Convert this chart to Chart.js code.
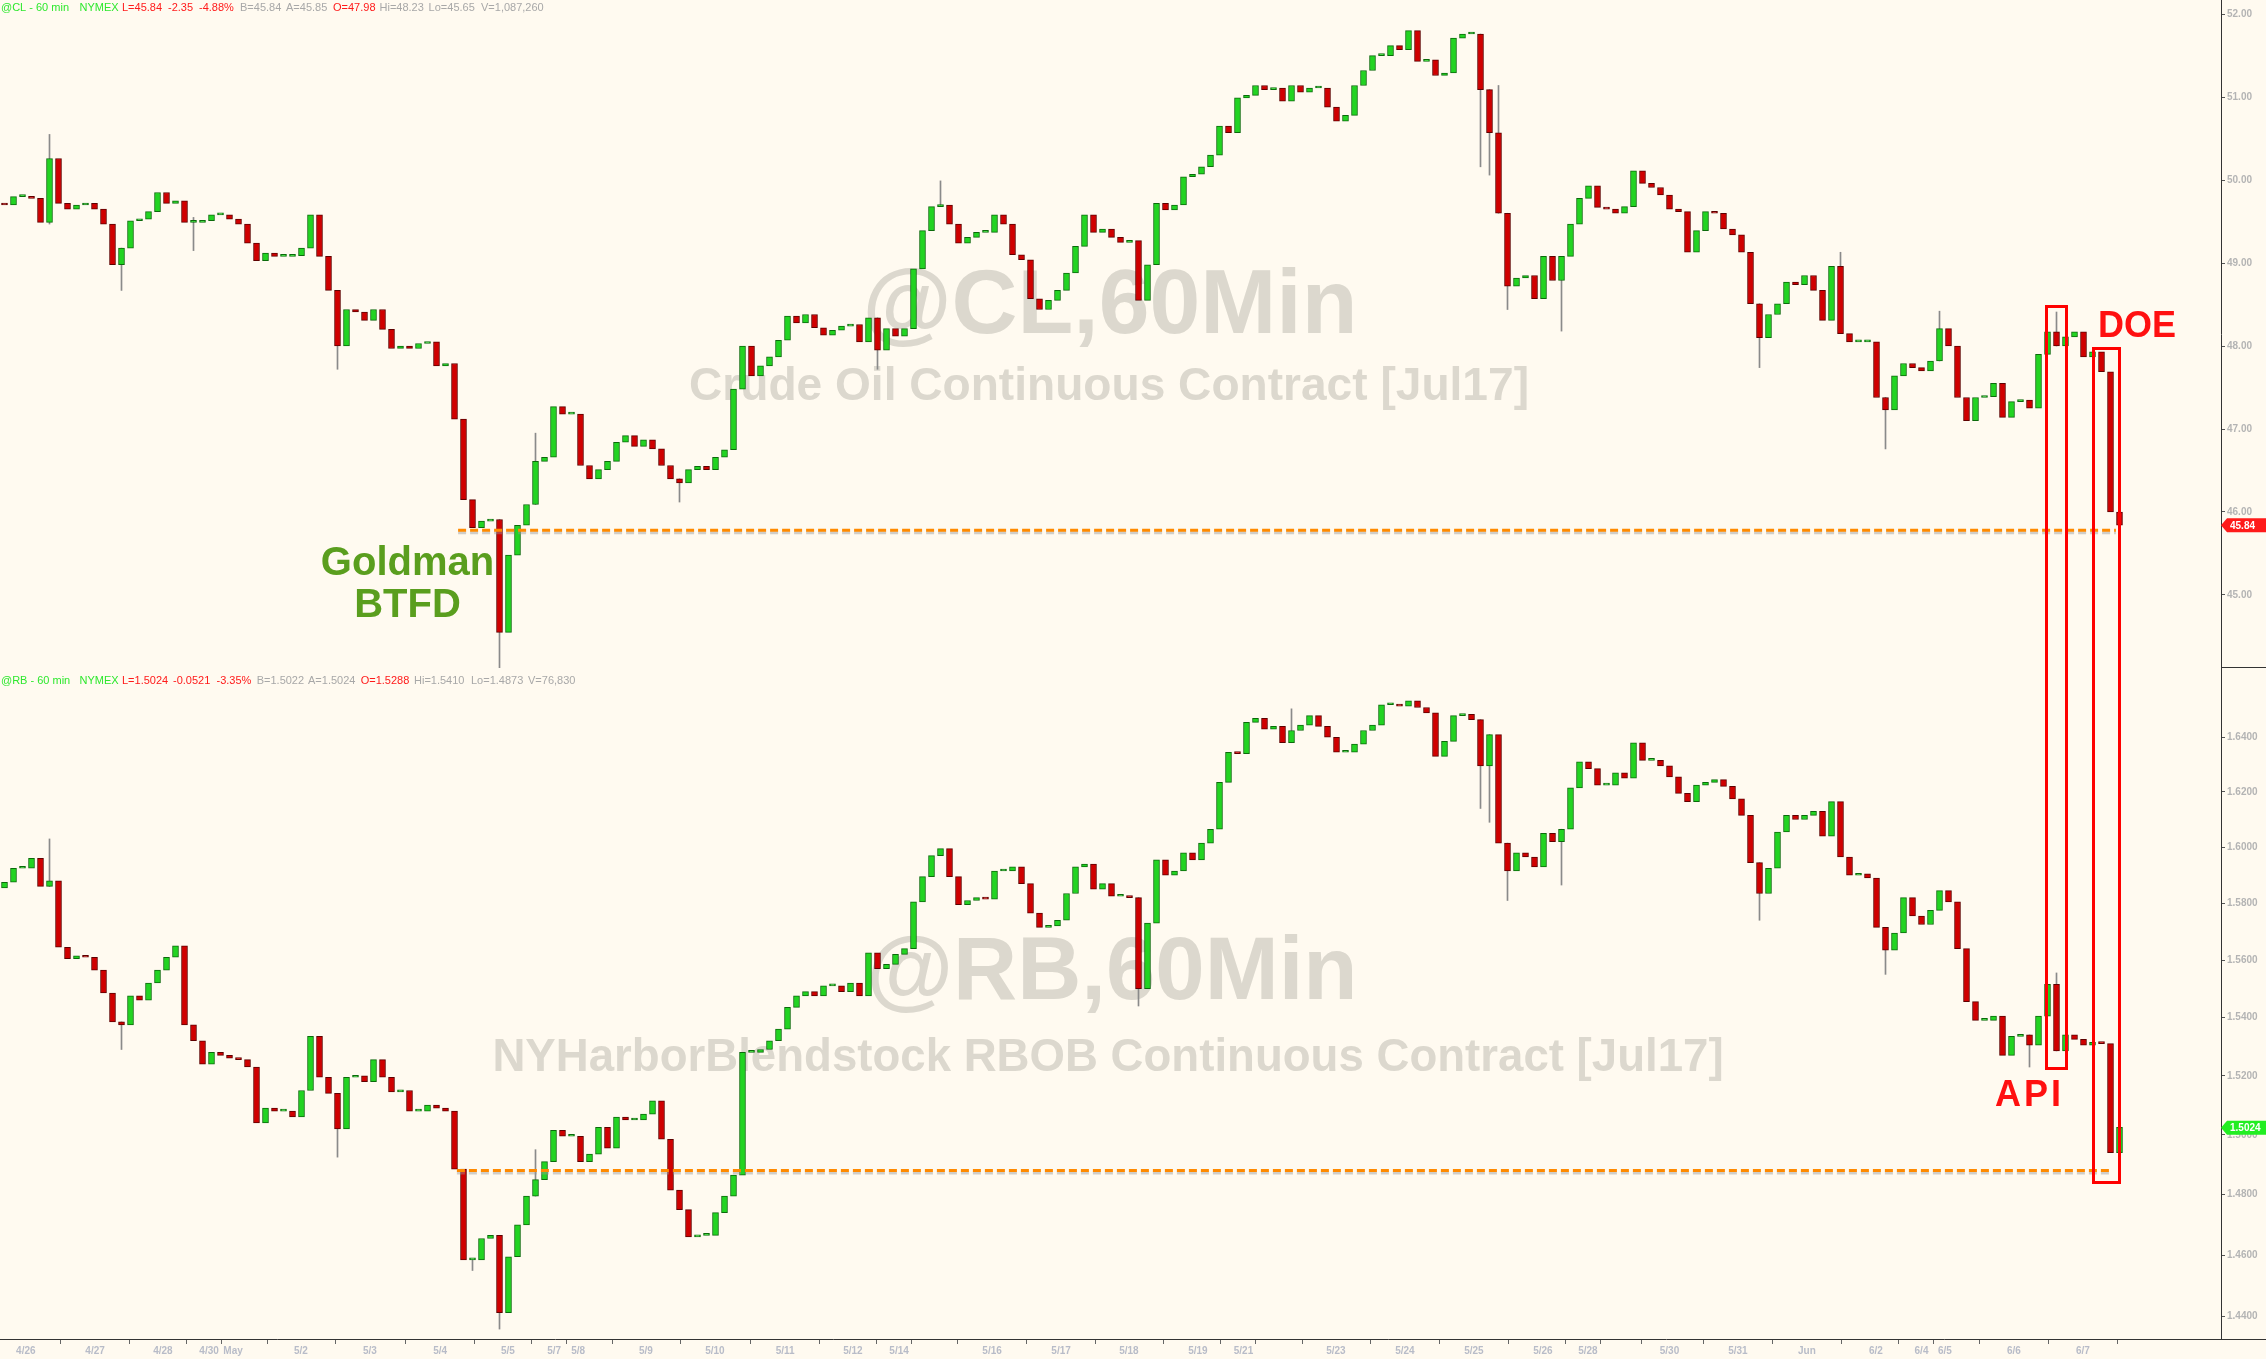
<!DOCTYPE html>
<html>
<head>
<meta charset="utf-8">
<script src="https://cdn.jsdelivr.net/npm/chart.js@4.4.1/dist/chart.umd.min.js"></script>
<style>
  body { margin: 0; background: #fffaf0; }
  #wrap { position: relative; width: 2266px; height: 1359px; overflow: hidden; background: #fffaf0; }
  canvas { position: absolute; left: 0; }
  #top-chart { top: 0; }
  #bottom-chart { top: 668px; }
  .box { position: absolute; border: 3px solid #ff0000; box-sizing: border-box; }
  .note { position: absolute; font-family: 'Liberation Sans', Arial, sans-serif; font-weight: bold; line-height: 1; white-space: nowrap; }
</style>
</head>
<body>
<div id="wrap">
  <canvas id="top-chart" width="2266" height="668"></canvas>
  <canvas id="bottom-chart" width="2266" height="691"></canvas>
  <div class="box" style="left:2045px;top:305px;width:23px;height:765px"></div>
  <div class="box" style="left:2092px;top:347px;width:29px;height:837px"></div>
  <div class="note" style="left:2098px;top:307px;font-size:36px;color:#ff1010">DOE</div>
  <div class="note" style="left:1995px;top:1076px;font-size:36px;color:#ff1010;letter-spacing:3px">API</div>
  <div class="note" style="left:300px;top:540px;width:215px;text-align:center;font-size:40px;line-height:42px;color:#5a9e1e">Goldman<br>BTFD</div>
</div>
<script>
// @CL 60 min, one close per 3 bars
const clFirstOpen = 49.72;
const clClose = [
  49.70, 49.80, 49.80, 49.78, 49.49, 50.26, 49.72, 49.65, 49.70, 49.72,
  49.65, 49.47, 48.98, 49.18, 49.51, 49.53, 49.62, 49.85, 49.72, 49.75,
  49.49, 49.49, 49.51, 49.58, 49.58, 49.53, 49.47, 49.24, 49.03, 49.12,
  49.08, 49.08, 49.09, 49.18, 49.58, 49.08, 48.67, 48.00, 48.44, 48.41,
  48.31, 48.44, 48.20, 47.97, 48.00, 47.97, 48.03, 48.05, 47.76, 47.79,
  47.12, 46.15, 45.81, 45.89, 45.91, 44.55, 45.48, 45.84, 46.09, 46.61,
  46.66, 47.27, 47.18, 47.18, 46.56, 46.40, 46.51, 46.61, 46.84, 46.92,
  46.79, 46.87, 46.76, 46.56, 46.40, 46.35, 46.51, 46.55, 46.51, 46.66,
  46.75, 47.48, 48.00, 47.64, 47.76, 47.87, 48.07, 48.36, 48.28, 48.38,
  48.22, 48.13, 48.19, 48.24, 48.26, 48.05, 48.34, 47.95, 48.21, 48.12,
  48.21, 48.93, 49.39, 49.68, 49.70, 49.47, 49.24, 49.31, 49.37, 49.37,
  49.58, 49.47, 49.10, 49.04, 48.57, 48.44, 48.55, 48.67, 48.88, 49.20,
  49.58, 49.37, 49.41, 49.31, 49.25, 49.27, 48.55, 48.98, 49.72, 49.64,
  49.70, 50.04, 50.07, 50.16, 50.30, 50.65, 50.57, 50.99, 51.02, 51.14,
  51.09, 51.11, 50.95, 51.14, 51.06, 51.11, 51.11, 50.88, 50.71, 50.78,
  51.14, 51.32, 51.50, 51.50, 51.62, 51.57, 51.80, 51.43, 51.45, 51.26,
  51.29, 51.71, 51.76, 51.76, 51.09, 50.57, 49.60, 48.72, 48.82, 48.85,
  48.57, 49.08, 48.79, 49.08, 49.47, 49.78, 49.93, 49.67, 49.65, 49.60,
  49.68, 50.11, 49.96, 49.91, 49.82, 49.65, 49.62, 49.13, 49.39, 49.62,
  49.60, 49.41, 49.34, 49.13, 48.51, 48.10, 48.38, 48.51, 48.77, 48.74,
  48.85, 48.67, 48.31, 48.96, 48.15, 48.05, 48.05, 48.05, 47.38, 47.23,
  47.64, 47.79, 47.74, 47.70, 47.82, 48.21, 48.00, 47.38, 47.10, 47.38,
  47.39, 47.55, 47.14, 47.33, 47.35, 47.25, 47.90, 48.17, 48.00, 48.11,
  48.17, 47.87, 47.93, 47.69, 46.00, 45.84
];
// [candle, low, high] for the longer shadows
const clWicks = [
  [5, 49.47, 50.55], [13, 48.67, 49.18], [21, 49.15, 49.55], [37, 47.72, 48.67],
  [55, 44.09, 45.91], [59, 46.09, 46.95], [75, 46.12, 46.40], [97, 47.72, 48.34],
  [104, 49.68, 49.99], [164, 50.16, 51.76], [165, 50.06, 51.09], [166, 49.60, 51.14],
  [167, 48.44, 49.60], [173, 48.18, 49.08], [195, 47.74, 48.51], [204, 48.15, 49.13],
  [209, 46.76, 47.38], [215, 47.82, 48.42], [228, 48.00, 48.41]
];

// @RB 60 min
const rbFirstOpen = 1.5855;
const rbClose = [
  1.5875, 1.5925, 1.5925, 1.5960, 1.5860, 1.5880, 1.5645, 1.5605, 1.5615, 1.5610,
  1.5565, 1.5485, 1.5385, 1.5375, 1.5475, 1.5460, 1.5520, 1.5565, 1.5610, 1.5650,
  1.5375, 1.5320, 1.5240, 1.5280, 1.5270, 1.5260, 1.5255, 1.5230, 1.5040, 1.5090,
  1.5080, 1.5080, 1.5060, 1.5150, 1.5335, 1.5195, 1.5140, 1.5020, 1.5195, 1.5200,
  1.5180, 1.5255, 1.5195, 1.5145, 1.5150, 1.5080, 1.5080, 1.5100, 1.5090, 1.5080,
  1.4885, 1.4585, 1.4585, 1.4655, 1.4665, 1.4413, 1.4595, 1.4700, 1.4795, 1.4850,
  1.4910, 1.5015, 1.4995, 1.4995, 1.4910, 1.4935, 1.5025, 1.4955, 1.5060, 1.5050,
  1.5050, 1.5070, 1.5115, 1.4985, 1.4815, 1.4750, 1.4660, 1.4665, 1.4665, 1.4740,
  1.4795, 1.4865, 1.5280, 1.5280, 1.5290, 1.5320, 1.5360, 1.5435, 1.5475, 1.5490,
  1.5475, 1.5510, 1.5510, 1.5490, 1.5520, 1.5475, 1.5625, 1.5570, 1.5585, 1.5620,
  1.5640, 1.5805, 1.5895, 1.5970, 1.5995, 1.5895, 1.5795, 1.5810, 1.5820, 1.5815,
  1.5915, 1.5915, 1.5930, 1.5870, 1.5765, 1.5715, 1.5720, 1.5740, 1.5835, 1.5930,
  1.5940, 1.5850, 1.5870, 1.5825, 1.5825, 1.5820, 1.5500, 1.5730, 1.5955, 1.5900,
  1.5915, 1.5980, 1.5955, 1.6015, 1.6065, 1.6235, 1.6345, 1.6340, 1.6455, 1.6470,
  1.6430, 1.6440, 1.6380, 1.6425, 1.6445, 1.6480, 1.6440, 1.6400, 1.6345, 1.6345,
  1.6375, 1.6425, 1.6445, 1.6520, 1.6520, 1.6515, 1.6535, 1.6510, 1.6490, 1.6330,
  1.6385, 1.6480, 1.6485, 1.6465, 1.6295, 1.6410, 1.6015, 1.5915, 1.5980, 1.5965,
  1.5930, 1.6050, 1.6020, 1.6065, 1.6215, 1.6310, 1.6285, 1.6225, 1.6225, 1.6270,
  1.6250, 1.6380, 1.6315, 1.6315, 1.6295, 1.6255, 1.6195, 1.6165, 1.6225, 1.6235,
  1.6245, 1.6220, 1.6175, 1.6115, 1.5945, 1.5835, 1.5925, 1.6055, 1.6115, 1.6100,
  1.6115, 1.6130, 1.6040, 1.6165, 1.5965, 1.5900, 1.5905, 1.5890, 1.5715, 1.5635,
  1.5695, 1.5820, 1.5755, 1.5725, 1.5775, 1.5845, 1.5805, 1.5640, 1.5455, 1.5390,
  1.5390, 1.5405, 1.5270, 1.5335, 1.5340, 1.5305, 1.5405, 1.5515, 1.5285, 1.5340,
  1.5325, 1.5305, 1.5315, 1.5310, 1.4940, 1.5025
];
const rbWicks = [
  [5, 1.5860, 1.6030], [13, 1.5290, 1.5385], [37, 1.4925, 1.5140], [52, 1.4550, 1.4585],
  [55, 1.4360, 1.4665], [59, 1.4795, 1.4950], [126, 1.5440, 1.5820], [143, 1.6380, 1.6505],
  [164, 1.6140, 1.6465], [165, 1.6090, 1.6410], [167, 1.5810, 1.6015], [173, 1.5865, 1.6065],
  [195, 1.5740, 1.5945], [209, 1.5550, 1.5715], [225, 1.5230, 1.5340], [228, 1.5285, 1.5555],
  [235, 1.4905, 1.5025]
];

const clTicks = [45, 46, 47, 48, 49, 50, 51, 52];
const rbTicks = [1.44, 1.46, 1.48, 1.50, 1.52, 1.54, 1.56, 1.58, 1.60, 1.62, 1.64];

// session starts, in bar units (3 bars per candle)
const dayLabels = ['4/26', '4/27', '4/28', '4/30', 'May', '5/2', '5/3', '5/4', '5/5', '5/7', '5/8',
  '5/9', '5/10', '5/11', '5/12', '5/14', '', '5/16', '5/17', '5/18', '5/19', '5/21', '', '5/23',
  '5/24', '5/25', '5/26', '5/28', '', '5/30', '5/31', 'Jun', '6/2', '6/4', '6/5', '6/6', '6/7'];
const dayPos = [8.6, 31.7, 54.3, 69.7, 77.7, 100.3, 123.3, 146.7, 169.3, 184.7, 192.7,
  215.3, 238.3, 261.7, 284.3, 299.7, 307.7, 330.7, 353.7, 376.3, 399.3, 414.5, 422.7, 445.3,
  468.3, 491.3, 514.3, 529.3, 537.7, 556.5, 579.3, 602.3, 625.3, 640.5, 648.3, 671.3, 694.3];

const clLast = 45.84;
const rbLast = 1.5024;
const clLevel = 45.78;   // orange support line
const rbLevel = 1.488;

const GREEN = '#2ee82e', RED = '#ff1a1a', GREY = '#a8a8a8';
const FONT = '"Liberation Sans", Arial, sans-serif';

function candles(closes, firstOpen) {
  return closes.map((c, i) => ({ x: 3 * i + 1.5, y: [i ? closes[i - 1] : firstOpen, c] }));
}
function isUp(closes, firstOpen, i) {
  return closes[i] >= (i ? closes[i - 1] : firstOpen);
}

function fitFont(ctx, text, width) {
  ctx.font = 'bold 100px ' + FONT;
  const size = 100 * width / ctx.measureText(text).width;
  return 'bold ' + size.toFixed(1) + 'px ' + FONT;
}

const decor = {
  id: 'decor',
  beforeDatasetsDraw(chart, args, o) {
    const ctx = chart.ctx;
    ctx.save();
    ctx.fillStyle = '#dcd8ce';
    ctx.textAlign = 'center';
    ctx.textBaseline = 'middle';
    o.marks.forEach(m => {
      ctx.font = fitFont(ctx, m.text, m.w);
      ctx.fillText(m.text, m.x, m.y);
    });
    ctx.restore();
  },
  afterDatasetsDraw(chart, args, o) {
    const ctx = chart.ctx, xs = chart.scales.x, ys = chart.scales.y;
    ctx.save();
    // dashed level line
    const ly = ys.getPixelForValue(o.level);
    const x0 = xs.getPixelForValue(o.from), x1 = xs.getPixelForValue(o.to);
    ctx.setLineDash([8, 4]);
    ctx.lineWidth = 3;
    ctx.strokeStyle = 'rgba(150,150,150,0.45)';
    ctx.beginPath(); ctx.moveTo(x0, ly + 2.5); ctx.lineTo(x1, ly + 2.5); ctx.stroke();
    ctx.strokeStyle = '#ff8a00';
    ctx.beginPath(); ctx.moveTo(x0, ly); ctx.lineTo(x1, ly); ctx.stroke();
    ctx.setLineDash([]);

    // header line
    ctx.font = '11px ' + FONT;
    ctx.textAlign = 'left';
    ctx.textBaseline = 'middle';
    o.header.forEach(([t, c, x]) => { ctx.fillStyle = c; ctx.fillText(t, x, o.headerY); });

    // last price tag
    const ty = ys.getPixelForValue(o.last);
    const right = chart.chartArea.right;
    ctx.fillStyle = o.tagColor;
    ctx.beginPath();
    ctx.moveTo(right, ty);
    ctx.lineTo(right + 6, ty - 7);
    ctx.lineTo(chart.width, ty - 7);
    ctx.lineTo(chart.width, ty + 7);
    ctx.lineTo(right + 6, ty + 7);
    ctx.closePath();
    ctx.fill();
    ctx.fillStyle = '#ffffff';
    ctx.font = 'bold 10px ' + FONT;
    ctx.fillText(o.tagText, right + 9, ty + 0.5);

    // separator in the axis strip
    ctx.strokeStyle = '#333';
    ctx.lineWidth = 1;
    ctx.beginPath();
    ctx.moveTo(right, o.sepY + 0.5); ctx.lineTo(chart.width, o.sepY + 0.5);
    ctx.stroke();
    ctx.restore();
  }
};

function makeChart(id, closes, firstOpen, wicks, yScale, showX, opts) {
  const up = closes.map((c, i) => isUp(closes, firstOpen, i));
  return new Chart(document.getElementById(id), {
    type: 'bar',
    data: {
      datasets: [
        {
          data: candles(closes, firstOpen),
          backgroundColor: up.map(u => u ? '#22d422' : '#d00000'),
          borderColor: up.map(u => u ? '#0b6a0b' : '#5e0000'),
          borderWidth: 1,
          borderSkipped: false,
          barThickness: 6,
          minBarLength: 2,
          grouped: false,
          order: 1
        },
        {
          data: wicks.map(([i, lo, hi]) => ({ x: 3 * i + 1.5, y: [lo, hi] })),
          backgroundColor: '#8a8a8a',
          barThickness: 1,
          grouped: false,
          order: 2
        }
      ]
    },
    options: {
      responsive: false,
      animation: false,
      devicePixelRatio: 1,
      layout: { padding: 0 },
      plugins: { legend: { display: false }, tooltip: { enabled: false }, decor: opts },
      scales: {
        x: {
          type: 'linear', min: 0, max: 2221 / 3, offset: false, display: showX,
          grid: { drawOnChartArea: false, drawTicks: true, tickLength: 5, color: '#666' },
          border: { color: '#333', width: 1 },
          afterBuildTicks: s => { s.ticks = dayPos.map(v => ({ value: v })); },
          afterFit: s => { s.height = showX ? 20 : 0; s.paddingLeft = 0; s.paddingRight = 0; },
          ticks: {
            autoSkip: false, maxRotation: 0, padding: 1,
            color: '#b8bcc8', font: { family: FONT, size: 10, weight: 'bold' },
            callback: (v, i) => dayLabels[i]
          }
        },
        y: Object.assign({
          position: 'right',
          bounds: 'data',
          grid: { drawOnChartArea: false, drawTicks: true, tickLength: 4, color: '#555' },
          border: { color: '#333', width: 1 },
          afterFit: s => { s.width = 45; s.paddingTop = 0; s.paddingBottom = 0; }
        }, yScale)
      }
    },
    plugins: [decor]
  });
}

makeChart('top-chart', clClose, clFirstOpen, clWicks, {
  min: 44.12, max: 52.17,
  afterBuildTicks: s => { s.ticks = clTicks.map(v => ({ value: v })); },
  ticks: { padding: 2, color: '#b4b4b4', font: { family: FONT, size: 10, weight: 'bold' }, callback: v => v.toFixed(2) }
}, false, {
  marks: [
    { text: '@CL,60Min', x: 1110, y: 308, w: 495 },
    { text: 'Crude Oil Continuous Contract [Jul17]', x: 1109, y: 387, w: 840 }
  ],
  level: clLevel, from: 152.7, to: 705.3,
  header: [['@CL - 60 min', GREEN, 1], ['NYMEX', GREEN, 79.5], ['L=45.84', RED, 122], ['-2.35', RED, 168],
    ['-4.88%', RED, 199], ['B=45.84', GREY, 240], ['A=45.85', GREY, 286], ['O=47.98', RED, 333],
    ['Hi=48.23', GREY, 379.5], ['Lo=45.65', GREY, 428.6], ['V=1,087,260', GREY, 481]],
  headerY: 7.5,
  last: clLast, tagText: clLast.toFixed(2), tagColor: '#ff1a1a',
  sepY: 667
});

makeChart('bottom-chart', rbClose, rbFirstOpen, rbWicks, {
  type: 'logarithmic', min: 1.4328, max: 1.6657,
  afterBuildTicks: s => { s.ticks = rbTicks.map(v => ({ value: v })); },
  ticks: { padding: 2, color: '#b4b4b4', font: { family: FONT, size: 10, weight: 'bold' }, callback: v => Number(v).toFixed(4) }
}, true, {
  marks: [
    { text: '@RB,60Min', x: 1112, y: 307, w: 491 },
    { text: 'NYHarborBlendstock RBOB Continuous Contract [Jul17]', x: 1108, y: 390, w: 1231 }
  ],
  level: rbLevel, from: 152.3, to: 704.3,
  header: [['@RB - 60 min', GREEN, 1], ['NYMEX', GREEN, 79.5], ['L=1.5024', RED, 122], ['-0.0521', RED, 173],
    ['-3.35%', RED, 216.5], ['B=1.5022', GREY, 256.7], ['A=1.5024', GREY, 308], ['O=1.5288', RED, 360.7],
    ['Hi=1.5410', GREY, 414], ['Lo=1.4873', GREY, 471], ['V=76,830', GREY, 528]],
  headerY: 12.7,
  last: rbLast, tagText: rbLast.toFixed(4), tagColor: '#22ee22',
  sepY: 671
});
</script>
</body>
</html>
